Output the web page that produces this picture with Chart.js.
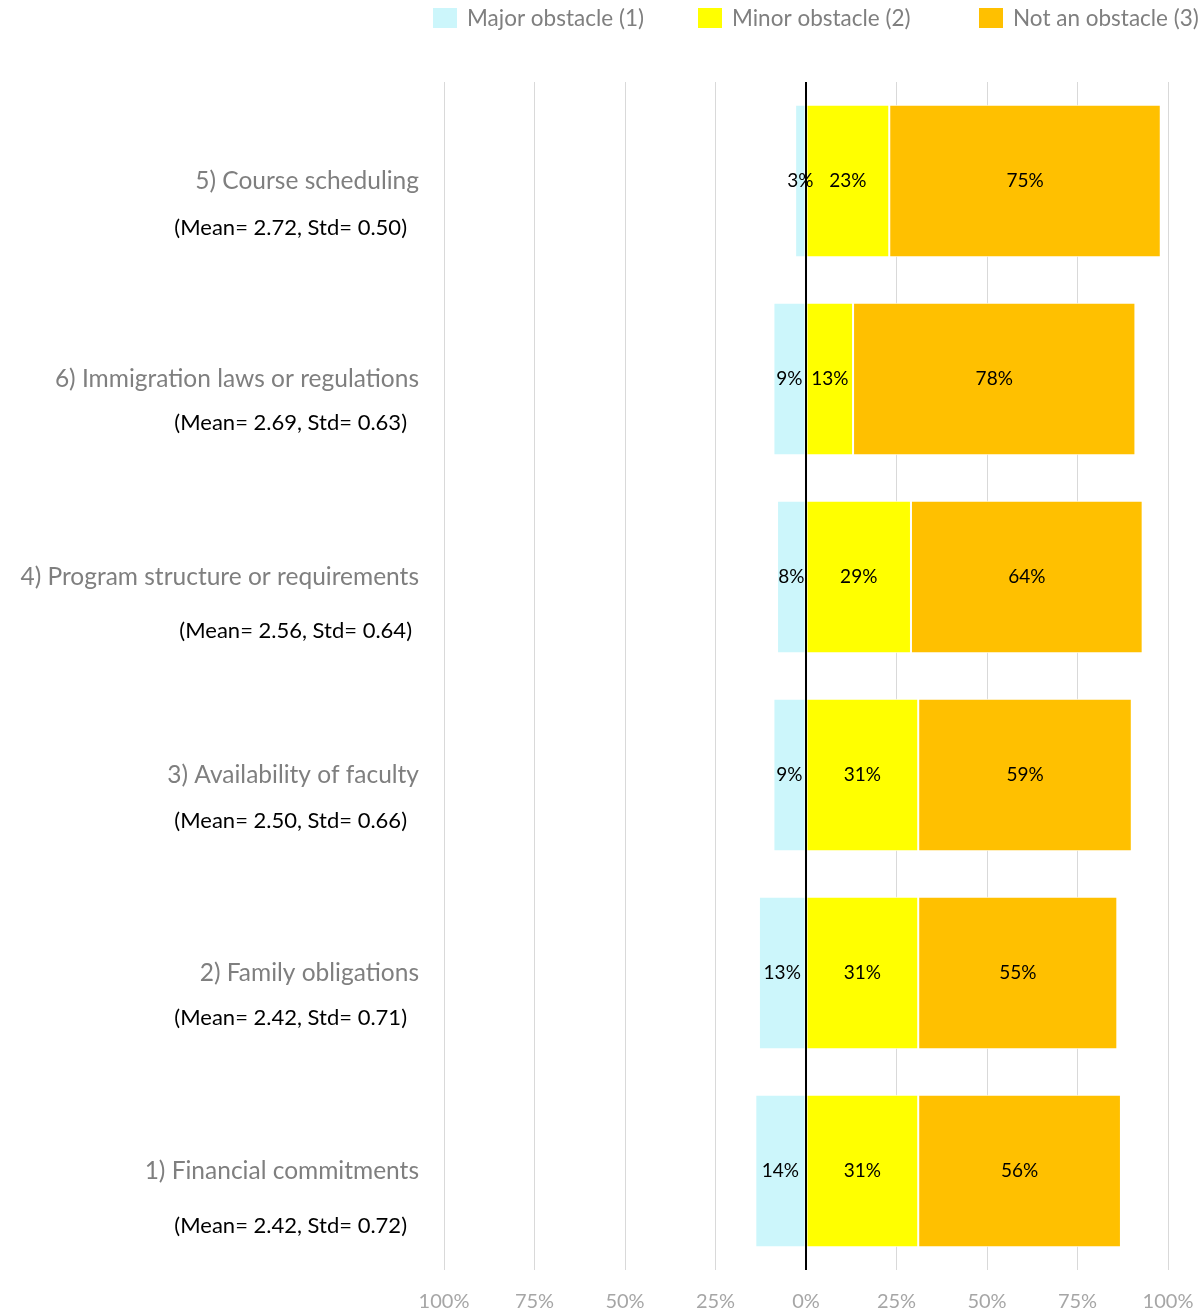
<!DOCTYPE html>
<html>
<head>
<meta charset="utf-8">
<script src="https://cdn.jsdelivr.net/npm/chart.js@4"></script>
<style>
  html, body { margin: 0; padding: 0; background: #fff; }
  #wrap { width: 1204px; height: 1313px; }
</style>
</head>
<body>
<div id="wrap"><canvas id="grafico"></canvas></div>
<script>
// categorias (de cima para baixo) e estatísticas
const categorias = [
    '5) Course scheduling',
    '6) Immigration laws or regulations',
    '4) Program structure or requirements',
    '3) Availability of faculty',
    '2) Family obligations',
    '1) Financial commitments'
];
const estatisticas = [
    '(Mean= 2.72, Std= 0.50)',
    '(Mean= 2.69, Std= 0.63)',
    '(Mean= 2.56, Std= 0.64)',
    '(Mean= 2.50, Std= 0.66)',
    '(Mean= 2.42, Std= 0.71)',
    '(Mean= 2.42, Std= 0.72)'
];

// percentuais de cada resposta
const majorObstacle = [3, 9, 8, 9, 13, 14];
const minorObstacle = [23, 13, 29, 31, 31, 31];
const notObstacle = [75, 78, 64, 59, 55, 56];

const seriesNomes = ['Major obstacle (1)', 'Minor obstacle (2)', 'Not an obstacle (3)'];
const cores = ['#CCF6FB', '#FFFF00', '#FFC000'];

const ticksX = [-100, -75, -50, -25, 0, 25, 50, 75, 100];

const FONTE = 'Lato, "Open Sans", sans-serif';

// deslocamento vertical da linha "(Mean=...)" abaixo do nome
const deslocMedia = [47, 44, 54, 46, 45, 55];

// rótulos do eixo Y em duas linhas (cinza + preto)
const rotulosY = {
    id: 'rotulosY',
    afterDraw(chart) {
        const c = chart.ctx;
        const y = chart.scales.y;
        c.save();
        c.textAlign = 'right';
        c.textBaseline = 'middle';
        categorias.forEach((cat, i) => {
            const py = y.getPixelForValue(i);
            c.font = '24.5px ' + FONTE;
            c.fillStyle = '#7f7f7f';
            c.fillText(cat, 419, py);
            c.font = '22px ' + FONTE;
            c.fillStyle = '#000';
            c.fillText(estatisticas[i], i === 2 ? 412 : 407, py + deslocMedia[i]);
        });
        c.restore();
    }
};

// valores dentro das barras + linha do zero por cima
const rotulosBarras = {
    id: 'rotulosBarras',
    afterDatasetsDraw(chart) {
        const c = chart.ctx;
        const area = chart.chartArea;
        const x0 = chart.scales.x.getPixelForValue(0);
        c.save();
        c.font = '19px ' + FONTE;
        c.fillStyle = '#000';
        c.textAlign = 'center';
        c.textBaseline = 'middle';
        chart.data.datasets.forEach((ds, d) => {
            chart.getDatasetMeta(d).data.forEach((bar, i) => {
                const cx = (bar.x + bar.base) / 2;
                c.fillText(Math.abs(ds.data[i]) + '%', cx, bar.y);
            });
        });
        c.strokeStyle = '#000';
        c.lineWidth = 2;
        c.beginPath();
        c.moveTo(x0, area.top);
        c.lineTo(x0, area.bottom);
        c.stroke();
        c.restore();
    }
};

// legenda desenhada manualmente
const legenda = {
    id: 'legenda',
    afterDraw(chart) {
        const c = chart.ctx;
        const posicoes = [433, 698, 979];
        c.save();
        c.font = '22.5px ' + FONTE;
        c.textBaseline = 'middle';
        c.textAlign = 'left';
        seriesNomes.forEach((nome, i) => {
            c.fillStyle = cores[i];
            c.fillRect(posicoes[i], 8, 24, 20);
            c.fillStyle = '#7f7f7f';
            c.fillText(nome, posicoes[i] + 34, 19);
        });
        c.restore();
    }
};

const dados = {
    labels: categorias,
    datasets: [
        { label: seriesNomes[0], data: majorObstacle.map(v => -v), backgroundColor: cores[0] },
        { label: seriesNomes[1], data: minorObstacle, backgroundColor: cores[1] },
        { label: seriesNomes[2], data: notObstacle, backgroundColor: cores[2] }
    ].map(ds => Object.assign(ds, {
        borderColor: '#fff',
        borderWidth: 1,
        borderSkipped: false,
        barPercentage: 0.77,
        categoryPercentage: 1
    }))
};

const config = {
    type: 'bar',
    data: dados,
    options: {
        indexAxis: 'y',
        responsive: true,
        maintainAspectRatio: false,
        animation: false,
        layout: {
            padding: { left: 444, right: 36, top: 82, bottom: 0 }
        },
        scales: {
            x: {
                stacked: true,
                min: -100,
                max: 100,
                border: { display: false },
                afterBuildTicks(scale) {
                    scale.ticks = ticksX.map(v => ({ value: v }));
                },
                afterFit(scale) {
                    scale.height = 43;
                    scale.paddingLeft = 0;
                    scale.paddingRight = 0;
                },
                grid: {
                    color: '#d9d9d9',
                    lineWidth: 1,
                    drawTicks: false
                },
                ticks: {
                    color: '#a6a6a6',
                    padding: 20,
                    font: { size: 20, family: FONTE },
                    callback: v => Math.abs(v) + '%'
                }
            },
            y: {
                stacked: true,
                display: false
            }
        },
        plugins: {
            legend: { display: false },
            tooltip: { enabled: false }
        }
    },
    plugins: [rotulosY, rotulosBarras, legenda]
};

const chart = new Chart(document.getElementById('grafico').getContext('2d'), config);
</script>
</body>
</html>
